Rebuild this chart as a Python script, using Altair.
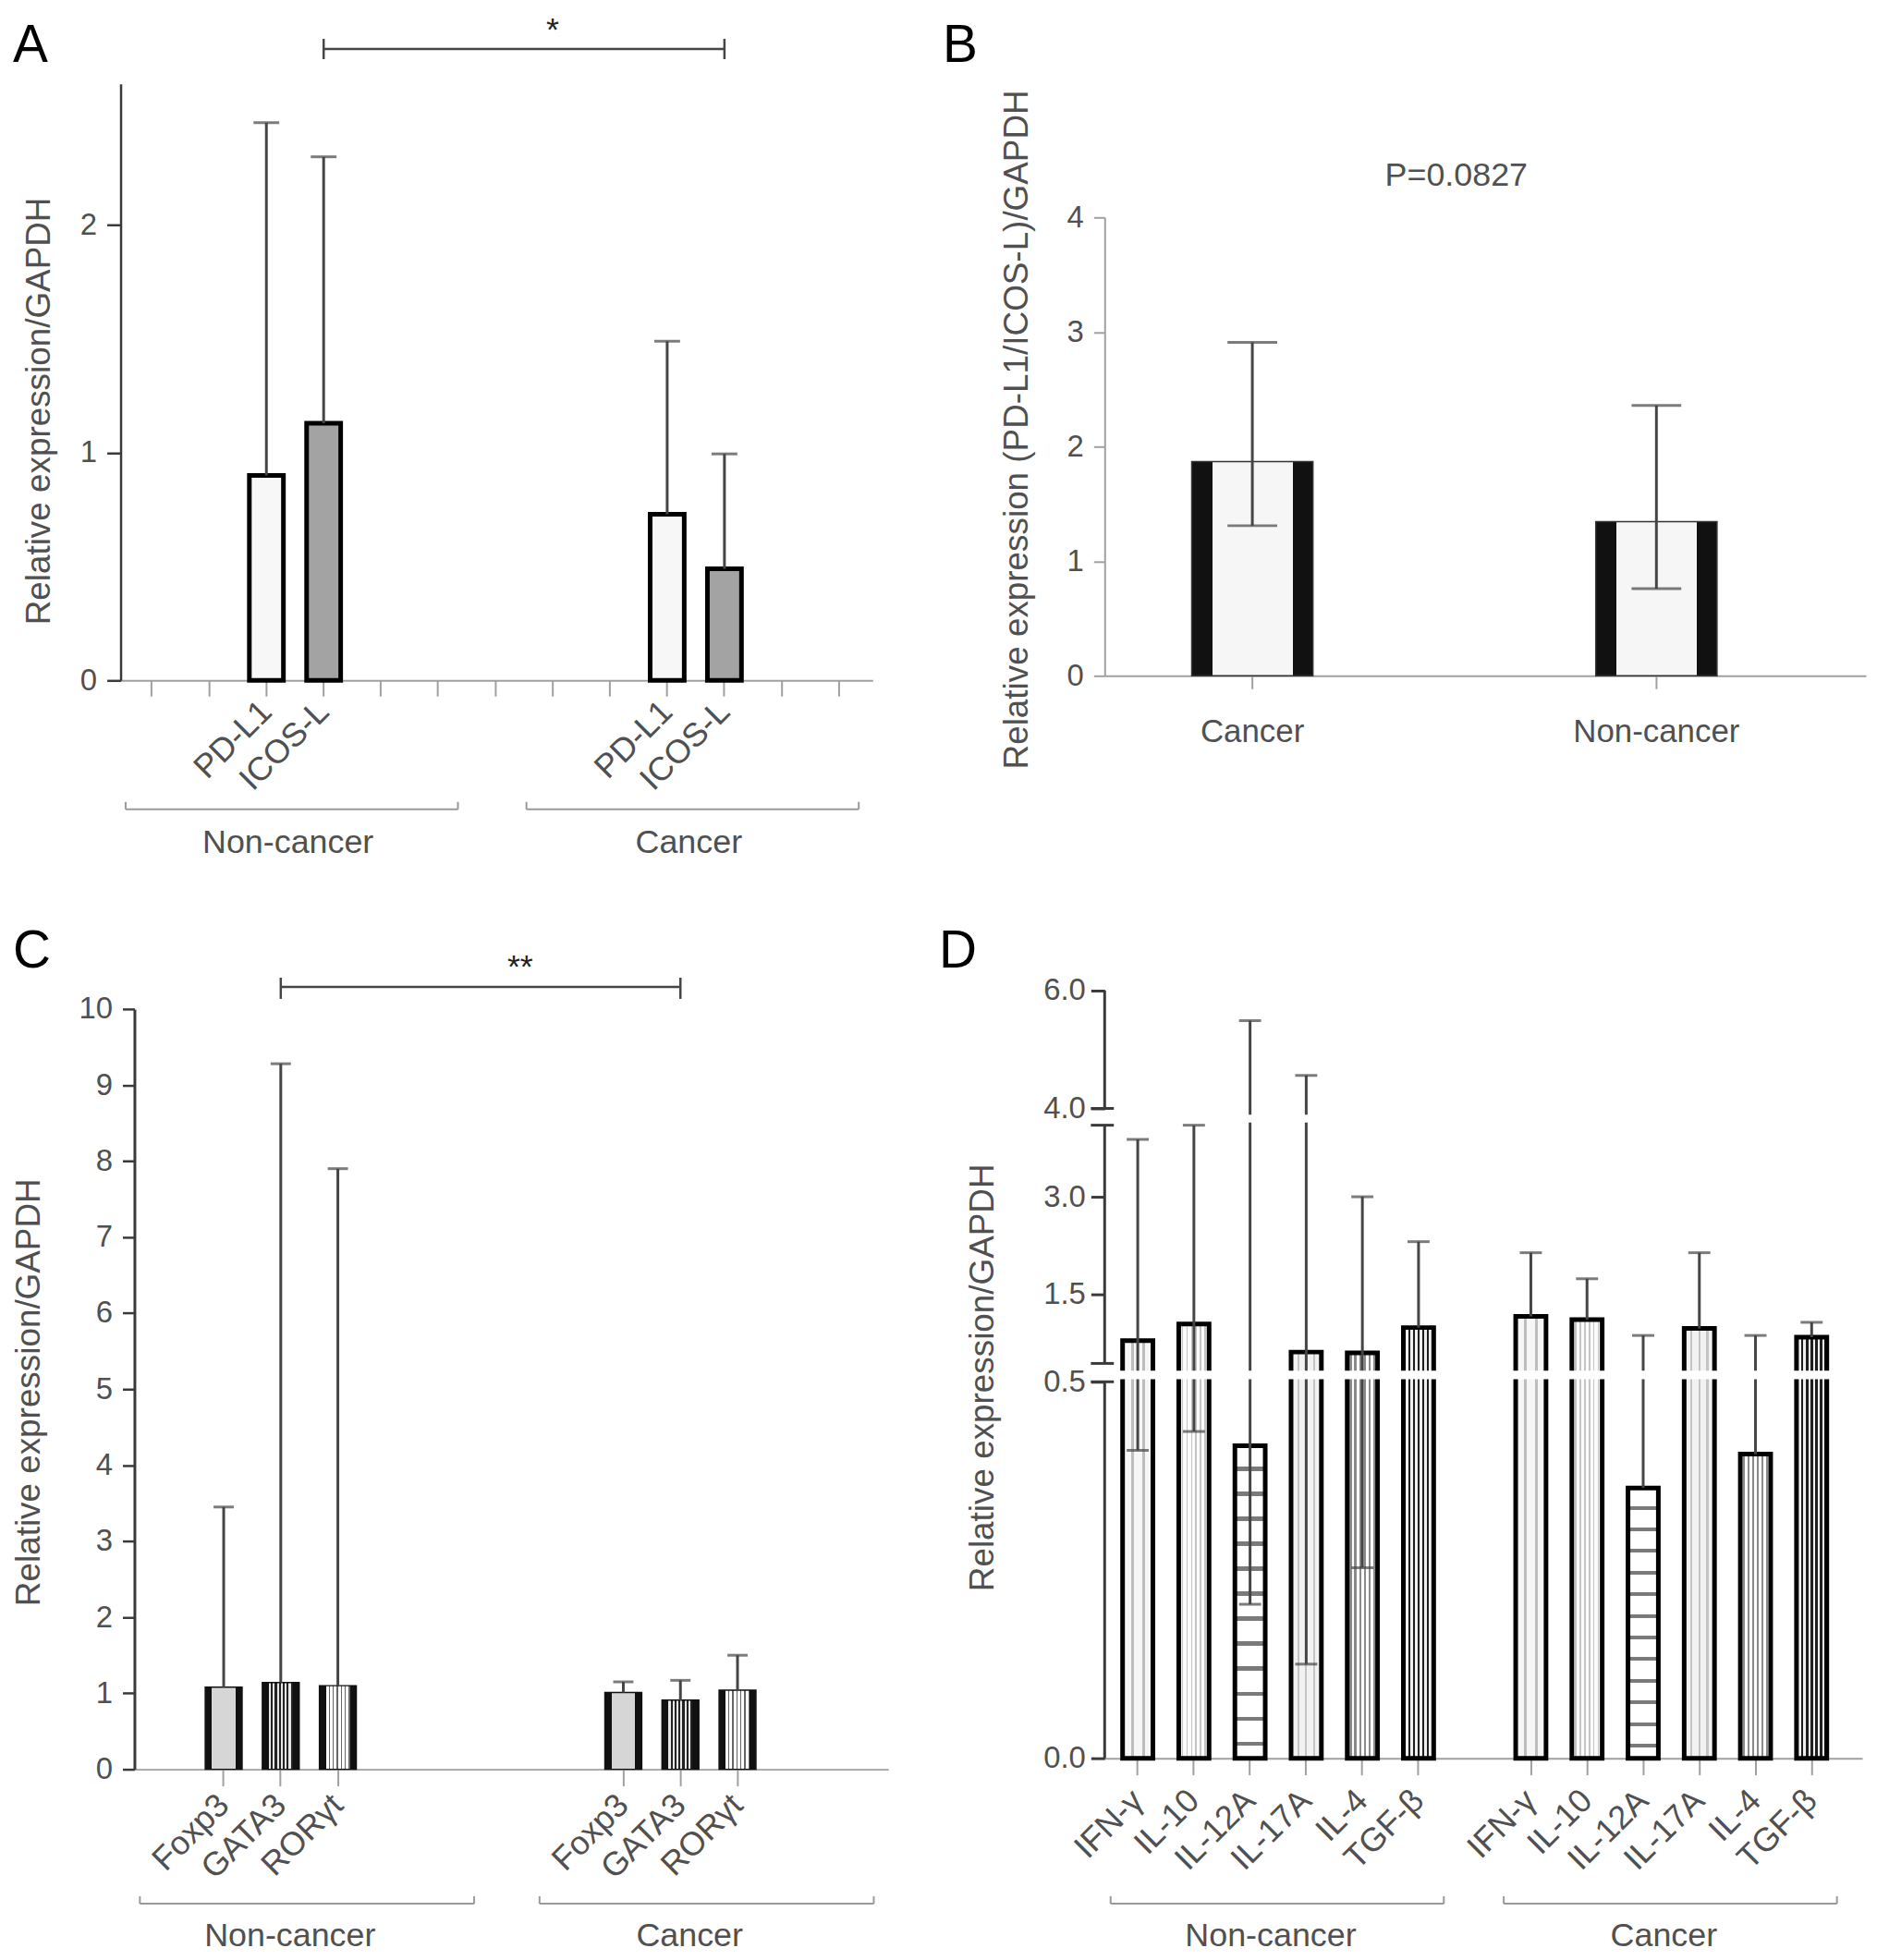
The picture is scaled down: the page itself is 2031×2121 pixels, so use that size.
import altair as alt
import pandas as pd

FONT = "Liberation Sans"
TXT = "#505050"
DARK = "#3a3a3a"
LIGHT = "#a0a0a0"
ERR = "#454545"

# ---------------- data ----------------
# A: PD-L1 / ICOS-L
a_slots = ["a%d" % i for i in range(13)]
a_bar_slots = ["a2", "a3", "a9", "a10"]
a_genes = ["PD-L1", "ICOS-L", "PD-L1", "ICOS-L"]
a_mean = [0.90, 1.13, 0.73, 0.49]
a_upper = [2.45, 2.30, 1.49, 0.995]
a_groups = ["Non-cancer", "Cancer"]
a_group_start = ["a0", "a7"]
a_group_end = ["a5", "a12"]
a_group_label_at = ["a2", "a9"]
a_sig = {"start": ["a3"], "end": ["a10"], "at": ["a7"], "txt": ["*"]}

# B: ratio
b_groups = ["Cancer", "Non-cancer"]
b_mean = [1.87, 1.345]
b_lower = [1.31, 0.76]
b_upper = [2.91, 2.36]
b_pvalue = ["P=0.0827"]

# C: transcription factors
c_slots = ["c%d" % i for i in range(13)]
c_bar_slots = ["c1", "c2", "c3", "c8", "c9", "c10"]
c_genes = ["Foxp3", "GATA3", "RORγt"] * 2
c_mean = [1.08, 1.14, 1.10, 1.01, 0.91, 1.04]
c_upper = [3.45, 9.28, 7.90, 1.15, 1.17, 1.50]
c_groups = ["Non-cancer", "Cancer"]
c_group_start = ["c0", "c7"]
c_group_end = ["c5", "c12"]
c_group_label_at = ["c2", "c9"]
c_sig = {"start": ["c2"], "end": ["c9"], "at": ["c6"], "txt": ["**"]}

# D: cytokines (broken axis)
d_slots = ["d%d" % i for i in range(13)]
d_bar_slots = ["d0", "d1", "d2", "d3", "d4", "d5", "d7", "d8", "d9", "d10", "d11", "d12"]
d_genes = ["IFN-γ", "IL-10", "IL-12A", "IL-17A", "IL-4", "TGF-β"] * 2
d_mean = [0.97, 1.16, 0.415, 0.84, 0.83, 1.12, 1.247, 1.21, 0.359, 1.11, 0.404, 1.01]
d_lower = [0.409, 0.434, 0.2045, 0.125, 0.253, 1.12, 1.247, 1.21, 0.359, 1.11, 0.404, 1.01]
d_upper = [3.65, 3.81, 5.49, 4.56, 3.0, 2.31, 2.14, 1.74, 1.03, 2.14, 1.03, 1.18]
d_ticks = [0, 0.5, 1.5, 3.0, 4.0, 6.0]
d_seg_lo = [0, 0.71, 4.0]
d_seg_hi = [0.5, 3.81, 6.0]
d_break_caps = [0.5, 0.71, 3.81, 4.0]
d_gap_lo = [0.53, 3.84]
d_gap_hi = [0.626, 3.93]
d_groups = ["Non-cancer", "Cancer"]
d_group_start = ["d0", "d7"]
d_group_end = ["d5", "d12"]
d_group_label_at = ["d2", "d9"]


# ---------------- helpers ----------------
def grad(bands, along="x"):
    total = float(sum(w for _, w in bands))
    stops, pos = [], 0.0
    for col, w in bands:
        stops.append(alt.GradientStop(color=col, offset=round(pos / total, 4)))
        pos += w
        stops.append(alt.GradientStop(color=col, offset=round(min(pos / total, 1.0), 4)))
    if along == "x":
        return alt.LinearGradient(gradient="linear", stops=stops, x1=0, x2=1, y1=0, y2=0)
    return alt.LinearGradient(gradient="linear", stops=stops, x1=0, x2=0, y1=0, y2=1)


def label_expr(slots, names):
    parts = ["datum.value == '%s' ? '%s'" % (s, n) for s, n in zip(slots, names)]
    return " : ".join(parts) + " : ''"


def letter(ch, dx, dy):
    return alt.Chart(pd.DataFrame({"t": [ch]})).mark_text(
        align="left", baseline="alphabetic", fontSize=57, color="black"
    ).encode(text="t:N", x=alt.value(dx), y=alt.value(dy))


def group_brackets(xs, xa, groups, starts, ends, label_at, y, off0, off1, lab_bp, lab_dx, lab_y):
    df = pd.DataFrame({"group": groups, "start": starts, "end": ends, "at": label_at})
    base = alt.Chart(df)
    line = base.mark_rule(color="#9a9a9a", strokeWidth=2, xOffset=off0, x2Offset=off1).encode(
        x=alt.X("start", type="nominal", scale=xs, axis=xa, bandPosition=0),
        x2=alt.X2(field="end", bandPosition=1),
        y=alt.value(y),
    )
    left = base.mark_rule(color="#9a9a9a", strokeWidth=2, xOffset=off0).encode(
        x=alt.X("start", type="nominal", scale=xs, axis=xa, bandPosition=0),
        y=alt.value(y - 8), y2=alt.value(y),
    )
    right = base.mark_rule(color="#9a9a9a", strokeWidth=2, xOffset=off1).encode(
        x=alt.X("end", type="nominal", scale=xs, axis=xa, bandPosition=1),
        y=alt.value(y - 8), y2=alt.value(y),
    )
    text = base.mark_text(fontSize=36, color=TXT, baseline="alphabetic", dx=lab_dx).encode(
        x=alt.X("at", type="nominal", scale=xs, axis=xa, bandPosition=lab_bp),
        y=alt.value(lab_y), text="group:N",
    )
    return [line, left, right, text]


def sig_bracket(xs, xa, sig, y, cap0, cap1, txt_y, txt_bp):
    base = alt.Chart(pd.DataFrame(sig))
    line = base.mark_rule(color=ERR, strokeWidth=2.5).encode(
        x=alt.X("start", type="nominal", scale=xs, axis=xa),
        x2=alt.X2(field="end"), y=alt.value(y))
    c1 = base.mark_rule(color=ERR, strokeWidth=2.5).encode(
        x=alt.X("start", type="nominal", scale=xs, axis=xa), y=alt.value(cap0), y2=alt.value(cap1))
    c2 = base.mark_rule(color=ERR, strokeWidth=2.5).encode(
        x=alt.X("end", type="nominal", scale=xs, axis=xa), y=alt.value(cap0), y2=alt.value(cap1))
    t = base.mark_text(fontSize=36, color="#222222", baseline="alphabetic").encode(
        x=alt.X("at", type="nominal", scale=xs, axis=xa, bandPosition=txt_bp),
        y=alt.value(txt_y), text="txt:N")
    return [line, c1, c2, t]


def bottom_axis(expr, values=None, pad=8, tick=17):
    kw = {} if values is None else {"values": values}
    return alt.Axis(title=None, labelExpr=expr, labelAngle=-45, labelAlign="right",
                    labelBaseline="middle", labelPadding=pad, tickSize=tick, labelFontSize=36,
                    domainColor=LIGHT, tickColor=LIGHT, domainWidth=2, tickWidth=2,
                    labelOverlap=False, labelBound=False, labelLimit=400, **kw)


# ---------------- panel A ----------------
a_xs = alt.Scale(domain=a_slots, paddingInner=0.405, paddingOuter=0.27, align=0.46)
a_xa = bottom_axis(label_expr(a_bar_slots, a_genes), pad=11, tick=17)
a_ys = alt.Scale(domain=[0, 2.62], nice=False)
a_ya = alt.Axis(title="Relative expression/GAPDH", values=[0, 1, 2], tickSize=15, labelPadding=11,
                domainColor=DARK, tickColor=DARK, domainWidth=2.5, tickWidth=2.5,
                titleX=-88, titleY=355, titleAlign="center", titleBaseline="middle", titleAngle=-90)
a_df = pd.DataFrame({"slot": a_bar_slots, "gene": a_genes, "mean": a_mean, "upper": a_upper})
a_base = alt.Chart(a_df)
a_fills = {"PD-L1": "#f7f7f7", "ICOS-L": "#a3a3a3"}
a_layers = []
for g, fill in a_fills.items():
    a_layers.append(a_base.transform_filter(alt.datum.gene == g).mark_bar(
        fill=fill, stroke="black", strokeWidth=5).encode(
        x=alt.X("slot", type="nominal", scale=a_xs, axis=a_xa),
        y=alt.Y("mean", type="quantitative", scale=a_ys, axis=a_ya)))
a_layers.append(a_base.mark_rule(color=ERR, strokeWidth=3).encode(
    x=alt.X("slot", type="nominal", scale=a_xs, axis=a_xa),
    y=alt.Y("mean", type="quantitative", scale=a_ys, axis=a_ya), y2="upper"))
a_layers.append(a_base.mark_tick(color=ERR, thickness=3, size=28).encode(
    x=alt.X("slot", type="nominal", scale=a_xs, axis=a_xa),
    y=alt.Y("upper", type="quantitative", scale=a_ys, axis=a_ya)))
a_layers += sig_bracket(a_xs, a_xa, a_sig, -38, -49, -27, -47, 0.5)
a_layers += group_brackets(a_xs, a_xa, a_groups, a_group_start, a_group_end, a_group_label_at,
                           788, -10, 3, 1, 5, 835)
a_layers.append(letter("A", -117, -24))
chart_a = alt.layer(*a_layers).properties(width=817, height=648)

# ---------------- panel B ----------------
b_xs = alt.Scale(domain=b_groups, paddingInner=0.70, paddingOuter=0.292, align=0.369)
b_xa = alt.Axis(title=None, labelAngle=0, tickSize=14, labelPadding=29, labelFontSize=35,
                labelLimit=400, domainColor=LIGHT, tickColor=LIGHT, domainWidth=2, tickWidth=2)
b_ys = alt.Scale(domain=[0, 4], range=[643, 145], nice=False)
b_ya = alt.Axis(title="Relative expression (PD-L1/ICOS-L)/GAPDH", values=[0, 1, 2, 3, 4], tickSize=12,
                labelPadding=11, domainColor=LIGHT, tickColor=LIGHT, domainWidth=2, tickWidth=2,
                titleX=-95, titleY=375, titleAlign="center", titleBaseline="middle", titleAngle=-90)
b_df = pd.DataFrame({"group": b_groups, "mean": b_mean, "lower": b_lower, "upper": b_upper})
b_base = alt.Chart(b_df)
b_fill = grad([("#111111", 22), ("#f6f6f6", 87), ("#111111", 22)])
bx = alt.X("group", type="nominal", scale=b_xs, axis=b_xa)
b_layers = [
    b_base.mark_bar(fill=b_fill, stroke="#333333", strokeWidth=1.5).encode(
        x=bx, y=alt.Y("mean", type="quantitative", scale=b_ys, axis=b_ya)),
    b_base.mark_rule(color=ERR, strokeWidth=3).encode(
        x=bx, y=alt.Y("lower", type="quantitative", scale=b_ys, axis=b_ya), y2="upper"),
    b_base.mark_tick(color=ERR, thickness=3, size=54).encode(
        x=bx, y=alt.Y("upper", type="quantitative", scale=b_ys, axis=b_ya)),
    b_base.mark_tick(color=ERR, thickness=3, size=54).encode(
        x=bx, y=alt.Y("lower", type="quantitative", scale=b_ys, axis=b_ya)),
    alt.Chart(pd.DataFrame({"p": b_pvalue})).mark_text(
        fontSize=36, color=TXT, baseline="middle").encode(
        text="p:N", x=alt.value(382), y=alt.value(100)),
    letter("B", -176, -24),
]
chart_b = alt.layer(*b_layers).properties(width=827, height=643)

# ---------------- panel C ----------------
c_xs = alt.Scale(domain=c_slots, range=[15, 834], paddingInner=0.355, paddingOuter=0.28, align=0.43)
c_xa = bottom_axis(label_expr(c_bar_slots, c_genes), values=c_bar_slots, pad=15, tick=18)
c_ys = alt.Scale(domain=[0, 10], range=[846, 20], nice=False)
c_ya = alt.Axis(title="Relative expression/GAPDH", values=list(range(11)), offset=-15, tickSize=13,
                labelPadding=11, domainColor=DARK, tickColor=DARK, domainWidth=3, tickWidth=2.5,
                titleX=-114, titleY=436, titleAlign="center", titleBaseline="middle", titleAngle=-90)
c_df = pd.DataFrame({"slot": c_bar_slots, "gene": c_genes, "mean": c_mean, "upper": c_upper})
c_base = alt.Chart(c_df)
edge = ("#111111", 7)
c_fills = {
    "Foxp3": grad([edge, ("#d6d6d6", 26), edge]),
    "GATA3": grad([edge] + [("#e6e6e6", 2.2), ("#222222", 2.1)] * 6 + [edge]),
    "RORγt": grad([edge] + [("#ffffff", 3), ("#666666", 1.33)] * 6 + [edge]),
}
c_layers = []
for g, fill in c_fills.items():
    c_layers.append(c_base.transform_filter(alt.datum.gene == g).mark_bar(
        fill=fill, stroke="#111111", strokeWidth=1.5).encode(
        x=alt.X("slot", type="nominal", scale=c_xs, axis=c_xa),
        y=alt.Y("mean", type="quantitative", scale=c_ys, axis=c_ya)))
c_layers.append(c_base.mark_rule(color=ERR, strokeWidth=3).encode(
    x=alt.X("slot", type="nominal", scale=c_xs, axis=c_xa),
    y=alt.Y("mean", type="quantitative", scale=c_ys, axis=c_ya), y2="upper"))
c_layers.append(c_base.mark_tick(color=ERR, thickness=3, size=22).encode(
    x=alt.X("slot", type="nominal", scale=c_xs, axis=c_xa),
    y=alt.Y("upper", type="quantitative", scale=c_ys, axis=c_ya)))
c_layers += sig_bracket(c_xs, c_xa, c_sig, -4, -14, 9, -14, 0.8)
c_layers += group_brackets(c_xs, c_xa, c_groups, c_group_start, c_group_end, c_group_label_at,
                           992, -9, 4, 0.75, 0, 1038)
c_layers.append(letter("C", -117, -25))
chart_c = alt.layer(*c_layers).properties(width=834, height=846)

# ---------------- panel D ----------------
d_xs = alt.Scale(domain=d_slots, paddingInner=0.46, paddingOuter=0.475, align=0.336)
d_xa = bottom_axis(label_expr(d_bar_slots, d_genes), values=d_bar_slots, pad=22, tick=18)
d_ys = alt.Scale(domain=[0, 0.5, 1.5, 3.0, 4.0, 6.0], range=[834, 425, 330, 224, 128, 0],
                 nice=False, zero=False)
d_ya = alt.Axis(title="Relative expression/GAPDH", values=d_ticks, format=".1f", domain=False,
                tickSize=15, labelPadding=6, tickColor=DARK, tickWidth=3,
                titleX=-132, titleY=420, titleAlign="center", titleBaseline="middle", titleAngle=-90)
d_df = pd.DataFrame({"slot": d_bar_slots, "gene": d_genes, "mean": d_mean,
                     "lower": d_lower, "upper": d_upper})
d_base = alt.Chart(d_df)
d_fills = {
    "IFN-γ": grad([("#f6f6f6", 3), ("#bdbdbd", 1), ("#f6f6f6", 3), ("#bdbdbd", 1), ("#f6f6f6", 3)]),
    "IL-10": grad([("#fbfbfb", 2), ("#c4c4c4", 1)] * 6 + [("#fbfbfb", 2)]),
    "IL-12A": grad([("#ffffff", 5), ("#7a7a7a", 1)] * 12 + [("#ffffff", 3)], along="y"),
    "IL-17A": grad([("#f2f2f2", 3), ("#c4c4c4", 1)] * 3 + [("#f2f2f2", 3)]),
    "IL-4": grad([("#fdfdfd", 1.2), ("#8a8a8a", 1)] * 6 + [("#fdfdfd", 1.2)]),
    "TGF-β": grad([("#1e1e1e", 1), ("#efefef", 1)] * 6 + [("#1e1e1e", 1)]),
}
d_layers = []
for g, fill in d_fills.items():
    d_layers.append(d_base.transform_filter(alt.datum.gene == g).mark_bar(
        fill=fill, stroke="black", strokeWidth=5).encode(
        x=alt.X("slot", type="nominal", scale=d_xs, axis=d_xa),
        y=alt.Y("mean", type="quantitative", scale=d_ys, axis=d_ya)))
d_layers.append(d_base.mark_rule(color=ERR, strokeWidth=3).encode(
    x=alt.X("slot", type="nominal", scale=d_xs, axis=d_xa),
    y=alt.Y("lower", type="quantitative", scale=d_ys, axis=d_ya), y2="upper"))
d_layers.append(d_base.mark_tick(color=ERR, thickness=3, size=24).encode(
    x=alt.X("slot", type="nominal", scale=d_xs, axis=d_xa),
    y=alt.Y("upper", type="quantitative", scale=d_ys, axis=d_ya)))
d_layers.append(d_base.transform_filter("datum.lower < datum.mean").mark_tick(
    color=ERR, thickness=3, size=24).encode(
    x=alt.X("slot", type="nominal", scale=d_xs, axis=d_xa),
    y=alt.Y("lower", type="quantitative", scale=d_ys, axis=d_ya)))
# white breaks across bars
d_layers.append(alt.Chart(pd.DataFrame({"lo": d_gap_lo, "hi": d_gap_hi})).mark_rect(color="white").encode(
    x=alt.value(6), x2=alt.value(823),
    y=alt.Y("lo", type="quantitative", scale=d_ys, axis=d_ya), y2="hi"))
# broken y axis
d_layers.append(alt.Chart(pd.DataFrame({"lo": d_seg_lo, "hi": d_seg_hi})).mark_rule(
    color=DARK, strokeWidth=3).encode(
    x=alt.value(0), y=alt.Y("lo", type="quantitative", scale=d_ys, axis=d_ya), y2="hi"))
d_layers.append(alt.Chart(pd.DataFrame({"v": d_break_caps})).mark_rule(
    color=DARK, strokeWidth=3).encode(
    x=alt.value(-15), x2=alt.value(10), y=alt.Y("v", type="quantitative", scale=d_ys, axis=d_ya)))
d_layers += group_brackets(d_xs, d_xa, d_groups, d_group_start, d_group_end, d_group_label_at,
                           992, -13, 11, 1, 6, 1038)
d_layers.append(letter("D", -180, -25))
chart_d = alt.layer(*d_layers).properties(width=823, height=834)

# ---------------- layout ----------------
chart = alt.concat(chart_a, chart_b, chart_c, chart_d, columns=2,
                   spacing={"row": 337, "column": 235}, bounds="flush").properties(
    padding={"left": 5, "top": 3, "right": 4, "bottom": 4}
).configure(font=FONT).configure_view(stroke=None).configure_axis(
    grid=False, labelFont=FONT, labelFontSize=33, labelColor=TXT,
    titleFont=FONT, titleFontSize=37, titleColor=TXT, titleFontWeight="normal")

chart.save("out.html", embed_options={"renderer": "svg", "actions": False})
